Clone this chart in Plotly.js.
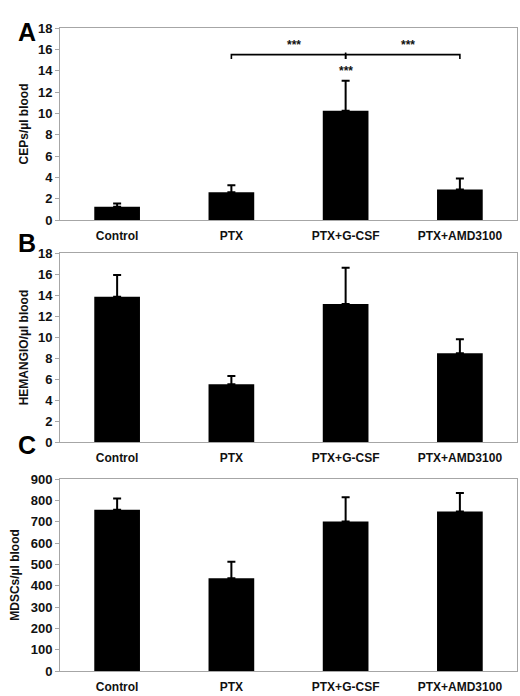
<!DOCTYPE html>
<html>
<head>
<meta charset="utf-8">
<script src="https://cdn.plot.ly/plotly-3.0.1.min.js"></script>
<style>
  html, body { margin: 0; padding: 0; background: #fff; }
  #chart { width: 520px; height: 696px; }
</style>
</head>
<body>
<div id="chart"></div>
<script>
// groups, shared by all three panels
const categories = ['Control', 'PTX', 'PTX+G-CSF', 'PTX+AMD3100'];

// panel A: circulating endothelial progenitors
const ceps = [1.25, 2.6, 10.25, 2.85];
const cepsErr = [0.3, 0.65, 2.8, 1.05];

// panel B: hemangiocytes
const hemangio = [13.85, 5.5, 13.15, 8.45];
const hemangioErr = [2.05, 0.8, 3.45, 1.35];

// panel C: myeloid derived suppressor cells
const mdsc = [756, 435, 701, 748];
const mdscErr = [53, 77, 113, 86];

// significance marks on panel A
const brackets = [
    { from: 'PTX', to: 'PTX+G-CSF', label: '***' },
    { from: 'PTX+G-CSF', to: 'PTX+AMD3100', label: '***' }
];
const starOnBar = 'PTX+G-CSF';

const FONT = 'Liberation Sans, Arial, sans-serif';
const FRAME = '#a6a6a6';

function barTrace(values, errs, axisNum) {
    const sfx = axisNum === 1 ? '' : String(axisNum);
    return {
        type: 'bar',
        x: categories,
        y: values,
        xaxis: 'x' + sfx,
        yaxis: 'y' + sfx,
        marker: { color: '#000000', line: { width: 0 } },
        error_y: {
            type: 'data',
            symmetric: false,
            array: errs,
            arrayminus: errs.map(() => 0),
            color: '#000000',
            thickness: 2,
            width: 4
        },
        hoverinfo: 'x+y',
        showlegend: false
    };
}

function xAxis(anchor) {
    return {
        anchor: anchor,
        type: 'category',
        range: [-0.5, 3.5],
        showline: true,
        mirror: true,
        linecolor: FRAME,
        linewidth: 1,
        ticks: '',
        showgrid: false,
        zeroline: false,
        ticklabelstandoff: 5,
        tickfont: { family: FONT, size: 12, color: '#111', weight: 'bold' }
    };
}

function yAxis(anchor, domain, range, dtick, title, standoff) {
    return {
        anchor: anchor,
        domain: domain,
        range: range,
        dtick: dtick,
        showline: true,
        mirror: true,
        linecolor: FRAME,
        linewidth: 1,
        ticks: 'outside',
        ticklen: 4,
        tickcolor: FRAME,
        showgrid: false,
        zeroline: false,
        tickfont: { family: FONT, size: 13, color: '#111', weight: 'bold' },
        title: {
            text: title,
            font: { family: FONT, size: 12, color: '#111', weight: 'bold' },
            standoff: standoff
        }
    };
}

const traces = [
    barTrace(ceps, cepsErr, 1),
    barTrace(hemangio, hemangioErr, 2),
    barTrace(mdsc, mdscErr, 3)
];

// bracket lines between compared groups
const bracketY = 15.5, bracketDrop = 0.4;
const shapes = [];
const annotations = [];
brackets.forEach(b => {
    const i0 = categories.indexOf(b.from);
    const i1 = categories.indexOf(b.to);
    shapes.push({
        type: 'path', xref: 'x', yref: 'y',
        path: `M ${i0},${bracketY - bracketDrop} L ${i0},${bracketY} L ${i1},${bracketY} L ${i1},${bracketY - bracketDrop}`,
        line: { color: '#000', width: 1.6 }
    });
    annotations.push({
        xref: 'x', yref: 'y',
        x: (i0 + i1) / 2 + 0.05, y: 16.4,
        text: b.label, showarrow: false,
        font: { family: FONT, size: 12, color: '#111', weight: 'bold' }
    });
});
const iStar = categories.indexOf(starOnBar);
shapes.push({
    type: 'line', xref: 'x', yref: 'y',
    x0: iStar, x1: iStar, y0: bracketY, y1: bracketY + 0.2,
    line: { color: '#000', width: 1.6 }
});
annotations.push({
    xref: 'x', yref: 'y',
    x: iStar, y: 14.0,
    text: '***', showarrow: false,
    font: { family: FONT, size: 12, color: '#111', weight: 'bold' }
});

// panel letters
[['A', 1.0194], ['B', 0.665], ['C', 0.3266]].forEach(([t, y]) => {
    annotations.push({
        xref: 'paper', yref: 'paper',
        x: -0.096, y: y,
        text: t, showarrow: false,
        font: { family: FONT, size: 25, color: '#000', weight: 'bold' }
    });
});

const layout = {
    width: 520,
    height: 696,
    margin: { l: 60, r: 3, t: 28, b: 25 },
    paper_bgcolor: '#ffffff',
    plot_bgcolor: '#ffffff',
    bargap: 0.6,
    showlegend: false,
    xaxis: xAxis('y'),
    yaxis: yAxis('x', [0.7014, 1], [0, 18], 2, 'CEPs/µl blood', 6),
    xaxis2: xAxis('y2'),
    yaxis2: yAxis('x2', [0.356, 0.650], [0, 18], 2, 'HEMANGIO/µl blood', 6),
    xaxis3: xAxis('y3'),
    yaxis3: yAxis('x3', [0, 0.2986], [0, 900], 100, 'MDSCs/µl blood', 8),
    shapes: shapes,
    annotations: annotations
};

Plotly.newPlot('chart', traces, layout, { displayModeBar: false, staticPlot: true });
</script>
</body>
</html>
